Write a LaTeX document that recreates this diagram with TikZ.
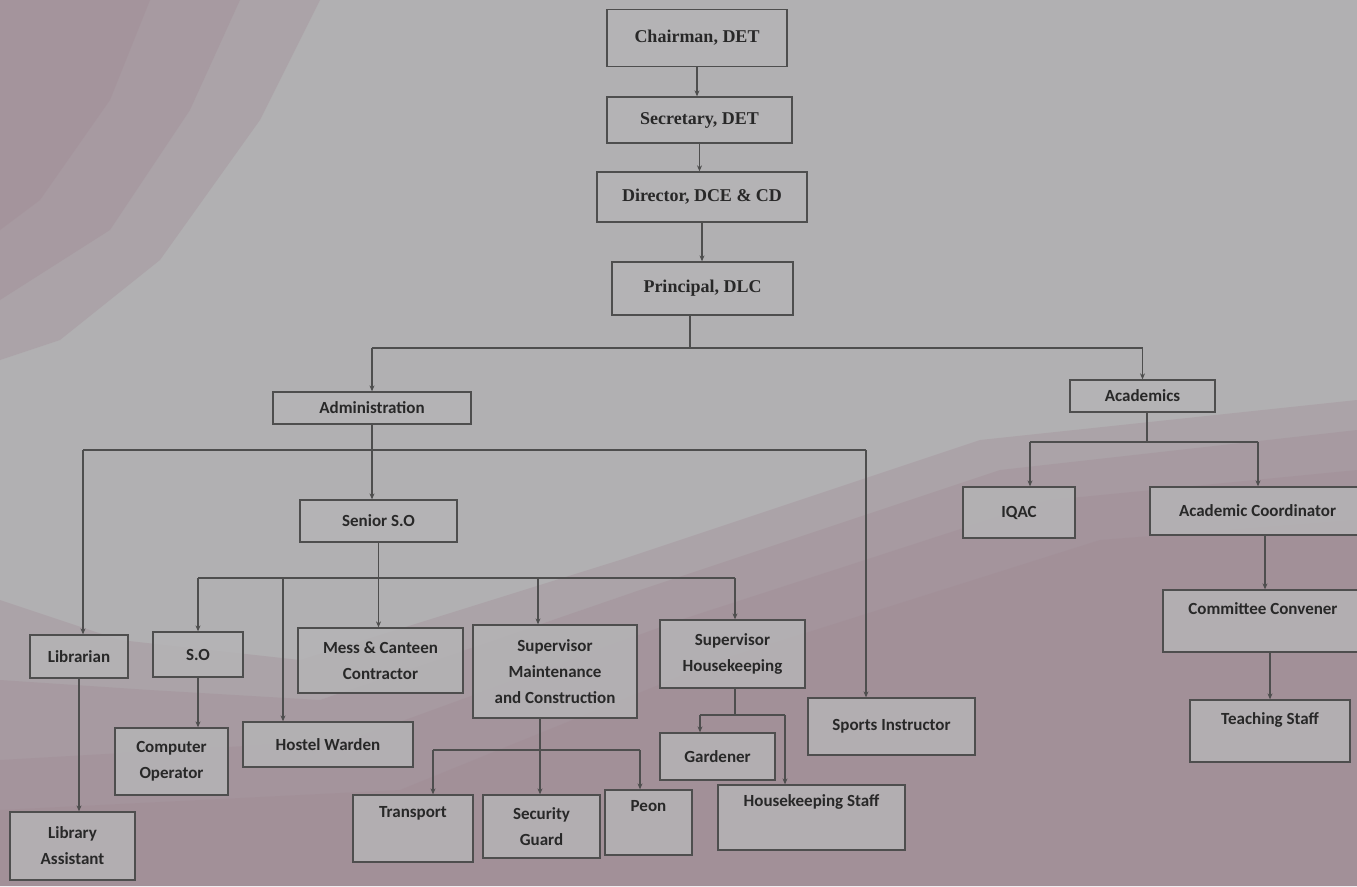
\documentclass[tikz,border=0pt]{standalone}
\usepackage{fontspec}
\setmainfont{Carlito}
\newfontfamily\serifbold{Liberation Serif}
\usetikzlibrary{arrows.meta}
\definecolor{bgpink}{RGB}{160,135,146}
\definecolor{bggrey}{RGB}{177,176,178}
\definecolor{boxfill}{RGB}{181,180,182}
\definecolor{ink}{RGB}{78,78,78}
\definecolor{txt}{RGB}{40,40,40}
\tikzset{
  box/.style={draw=ink, line width=1.3pt, fill=boxfill, fill opacity=0.85, text opacity=1, inner sep=2pt, align=center,
    font=\fontsize{17}{26}\selectfont\bfseries, text=txt},
  topbox/.style={box, font=\serifbold\fontsize{18}{22}\selectfont\bfseries},
  conn/.style={draw=ink, line width=1.2pt},
  arr/.style={conn, -{Stealth[length=6pt,width=5pt]}},
  pinklayer/.style={fill=bgpink, opacity=0.3},
}
\begin{document}
\begin{tikzpicture}[x=1pt,y=-1pt]
\useasboundingbox (0,0) rectangle (1357,886);
\clip (0,0) rectangle (1357,886);
% background
\fill[bggrey] (0,0) rectangle (1357,886);
% lower pink tint, soft edges by layering
\fill[pinklayer] (0,886) -- (0,600) -- (120,640) -- (300,660) -- (620,560) -- (980,440) -- (1357,400) -- (1357,886) -- cycle;
\fill[pinklayer] (0,886) -- (0,680) -- (150,690) -- (320,700) -- (640,590) -- (1000,470) -- (1357,430) -- (1357,886) -- cycle;
\fill[pinklayer] (0,886) -- (0,760) -- (350,740) -- (680,620) -- (1050,500) -- (1357,470) -- (1357,886) -- cycle;
\fill[pinklayer] (0,886) -- (0,810) -- (400,790) -- (720,660) -- (1100,540) -- (1357,520) -- (1357,886) -- cycle;
% top-left pink tint
\fill[pinklayer] (0,0) -- (320,0) -- (260,120) -- (160,260) -- (60,340) -- (0,360) -- cycle;
\fill[pinklayer] (0,0) -- (240,0) -- (190,110) -- (110,230) -- (0,300) -- cycle;
\fill[pinklayer] (0,0) -- (150,0) -- (110,100) -- (40,200) -- (0,230) -- cycle;

% top chain
\node[topbox, minimum width=180, minimum height=57] (chair) at (697,38) {Chairman, DET};
\node[topbox, minimum width=185, minimum height=46] (sec) at (699.5,120) {Secretary, DET};
\node[topbox, minimum width=210, minimum height=50] (dir) at (702,197) {Director, DCE \& CD};
\node[topbox, minimum width=181, minimum height=53] (prin) at (702.5,288.5) {Principal, DLC};

\node[box, minimum width=198, minimum height=32] (admin) at (372,408) {Administration};
\node[box, minimum width=145, minimum height=32] (acad) at (1142.5,396) {Academics};

\node[box, minimum width=157, minimum height=42] (senior) at (378.5,521) {Senior S.O};
\node[box, minimum width=112, minimum height=51] (iqac) at (1019,512.5) {IQAC};
\node[box, minimum width=215, minimum height=48] (acoord) at (1257.5,511) {Academic Coordinator};
\node[box, minimum width=200, minimum height=62] (conv) at (1263,621) {Committee Convener\\[-8pt] \strut};
\node[box, minimum width=160, minimum height=62] (teach) at (1270,731) {Teaching Staff\\[-8pt] \strut};

\node[box, minimum width=98, minimum height=43] (lib) at (79,656.5) {Librarian};
\node[box, minimum width=90, minimum height=45] (so) at (198,654.5) {S.O};
\node[box, minimum width=165, minimum height=65] (mess) at (380.5,660.5) {Mess \& Canteen\\Contractor};
\node[box, minimum width=164, minimum height=93] (supm) at (555,671.5) {Supervisor\\Maintenance\\and Construction};
\node[box, minimum width=145, minimum height=68] (suph) at (732.5,654) {Supervisor\\Housekeeping};
\node[box, minimum width=167, minimum height=57] (sports) at (891.5,726.5) {Sports Instructor};

\node[box, minimum width=125, minimum height=68] (libass) at (72.5,846) {Library\\Assistant};
\node[box, minimum width=113, minimum height=67] (comp) at (171.5,761.5) {Computer\\Operator};
\node[box, minimum width=170, minimum height=45] (hostel) at (328,744.5) {Hostel Warden};
\node[box, minimum width=115, minimum height=47] (gard) at (717.5,756.5) {Gardener};
\node[box, minimum width=120, minimum height=67] (trans) at (413,828.5) {Transport\\ \strut};
\node[box, minimum width=117, minimum height=63] (guard) at (541.5,826.5) {Security\\Guard};
\node[box, minimum width=87, minimum height=65] (peon) at (648.5,822.5) {Peon\\ \strut};
\node[box, minimum width=187, minimum height=65] (hks) at (811.5,817.5) {Housekeeping Staff\\ \strut};

% branch coordinates
\coordinate (j1) at (690,348);
\coordinate (j2l) at (83,450);
\coordinate (j2r) at (866,450);
\coordinate (j3) at (378,578);
\coordinate (j3h) at (283,578);
\coordinate (j3m) at (538,578);
\coordinate (j3s) at (735,578);
\coordinate (j4) at (540,750);
\coordinate (j4l) at (433,750);
\coordinate (j4r) at (640,750);
\coordinate (j5) at (735,715);
\coordinate (j5l) at (700,715);
\coordinate (j5r) at (785,715);
\coordinate (j6) at (1147,442);
\coordinate (j6l) at (1030,442);
\coordinate (j6r) at (1258,442);
\coordinate (k1) at (1265,0);
\coordinate (k2) at (1270,0);

% top chain connectors
\draw[arr] (chair.south) -- (chair.south |- sec.north);
\draw[arr] (sec.south) -- (sec.south |- dir.north);
\draw[arr] (dir.south) -- (dir.south |- prin.north);
\draw[conn] (prin.south -| j1) -- (j1);
\draw[conn] (admin.north |- j1) -- (acad.north |- j1);
\draw[arr] (admin.north |- j1) -- (admin.north);
\draw[arr] (acad.north |- j1) -- (acad.north);

% administration
\draw[arr] (admin.south) -- (admin.south |- senior.north);
\draw[conn] (j2l) -- (j2r);
\draw[arr] (j2l) -- (j2l |- lib.north);
\draw[arr] (j2r) -- (j2r |- sports.north);

% senior S.O
\draw[arr] (senior.south) -- (senior.south |- mess.north);
\draw[conn] (so.north |- j3) -- (j3s);
\draw[arr] (so.north |- j3) -- (so.north);
\draw[arr] (j3h) -- (j3h |- hostel.north);
\draw[arr] (j3m) -- (j3m |- supm.north);
\draw[arr] (j3s) -- (j3s |- suph.north);

\draw[arr] (lib.south) -- (lib.south |- libass.north);
\draw[arr] (so.south) -- (so.south |- comp.north);

% maintenance
\draw[arr] (supm.south -| j4) -- (j4 |- guard.north);
\draw[conn] (j4l) -- (j4r);
\draw[arr] (j4l) -- (j4l |- trans.north);
\draw[arr] (j4r) -- (j4r |- peon.north);

% housekeeping
\draw[conn] (suph.south -| j5) -- (j5);
\draw[conn] (j5l) -- (j5r);
\draw[arr] (j5l) -- (j5l |- gard.north);
\draw[arr] (j5r) -- (j5r |- hks.north);

% academics
\draw[conn] (acad.south -| j6) -- (j6);
\draw[conn] (j6l) -- (j6r);
\draw[arr] (j6l) -- (j6l |- iqac.north);
\draw[arr] (j6r) -- (j6r |- acoord.north);
\draw[arr] (acoord.south -| k1) -- (k1 |- conv.north);
\draw[arr] (conv.south -| k2) -- (k2 |- teach.north);
\end{tikzpicture}
\end{document}
